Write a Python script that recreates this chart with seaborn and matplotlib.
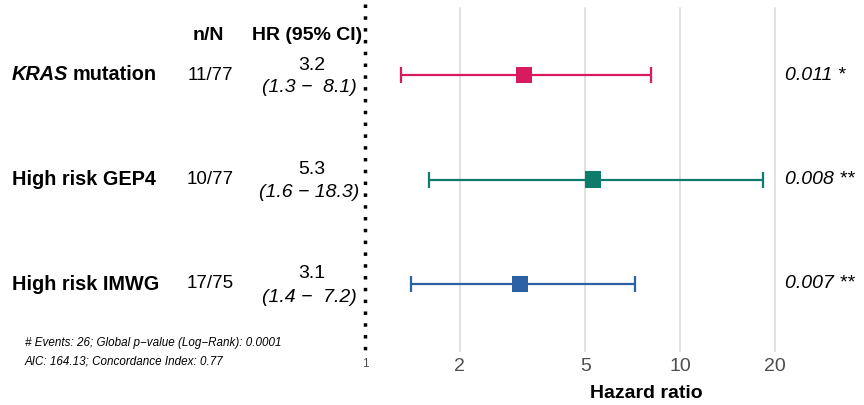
import numpy as np
import pandas as pd
import seaborn as sns
import matplotlib.pyplot as plt
from matplotlib import transforms

# data
variables = ["KRAS mutation", "High risk GEP4", "High risk IMWG"]
n_over_N = ["11/77", "10/77", "17/75"]
hr = [3.2, 5.3, 3.1]
ci_low = [1.3, 1.6, 1.4]
ci_high = [8.1, 18.3, 7.2]
p_text = ["0.011 *", "0.008 **", "0.007 **"]
colors = ["#D81B60", "#0E7C6B", "#2C62A3"]
xticks = [1, 2, 5, 10, 20]
footnote = ["# Events: 26; Global p\u2212value (Log\u2212Rank): 0.0001",
            "AIC: 164.13; Concordance Index: 0.77"]

df = pd.DataFrame({"var": variables, "hr": hr, "lo": ci_low, "hi": ci_high,
                   "row": np.arange(len(variables))})

sns.set_theme(style="white")
plt.rcParams['font.family'] = ['Liberation Sans', 'DejaVu Sans']
plt.rcParams['text.color'] = 'black'

W, H = 864, 405
fig = plt.figure(figsize=(W / 100, H / 100), dpi=100)
bottom_px = 352
ax = fig.add_axes([0, (H - bottom_px) / H, 1, bottom_px / H])

# x: log scale, 1 at pixel 365, ~315 px per decade
x0, dec = 365, 315
ax.set_xscale("log")
ax.set_xlim(10 ** (-x0 / dec), 10 ** ((W - x0) / dec))
# y: rows at pixels 75, 180, 284
y0, step = 75, 104.5
ax.set_ylim((bottom_px - y0) / step, -y0 / step)

# grid lines + dotted reference line at HR = 1
for t in xticks[1:]:
    ax.plot([t, t], [(8 - y0) / step, (bottom_px - y0) / step], color="#dedede", lw=1.3, zorder=0)
ax.plot([1, 1], [(4 - y0) / step, (bottom_px - y0) / step], color="black", lw=2.5,
        linestyle=(0, (1, 2.4)), dash_capstyle="butt", zorder=1)

for i, r in df.iterrows():
    ax.errorbar(r["hr"], r["row"], xerr=[[r["hr"] - r["lo"]], [r["hi"] - r["hr"]]],
                fmt="none", ecolor=colors[i], elinewidth=1.6, capsize=5.7, capthick=1.6, zorder=2)
sns.scatterplot(data=df, x="hr", y="row", hue="var", palette=colors, marker="s",
                s=140, linewidth=0, legend=False, ax=ax, zorder=3)

# axis styling
ax.set_xticks(xticks)
ax.set_xticklabels([str(t) for t in xticks])
ax.minorticks_off()
ax.set_yticks([])
ax.tick_params(axis="x", length=0, pad=4, labelsize=14, labelcolor="#4d4d4d")
ax.get_xticklabels()[0].set_fontsize(8.5)
for s in ax.spines.values():
    s.set_visible(False)
ax.set_xlabel("Hazard ratio", fontsize=14, fontweight="bold", color="black")
ax.xaxis.set_label_coords(646 / W, -(393 - bottom_px) / bottom_px, transform=ax.transAxes)
ax.xaxis.label.set_verticalalignment("center")
ax.set_ylabel("")

# table text on the left (x in pixels, y in row units)
tr = transforms.blended_transform_factory(fig.transFigure, ax.transData)
hy = (35 - y0) / step
ax.text(208 / W, hy, "n/N", transform=tr, ha="center", va="center", fontsize=14, fontweight="bold")
ax.text(307 / W, hy, "HR (95% CI)", transform=tr, ha="center", va="center", fontsize=14, fontweight="bold")
for i in range(len(variables)):
    if i == 0:
        ax.text(12 / W, i, "KRAS", transform=tr, ha="left", va="center", fontsize=14.3,
                fontweight="bold", style="italic")
        ax.text(73 / W, i, "mutation", transform=tr, ha="left", va="center", fontsize=14.3,
                fontweight="bold")
    else:
        ax.text(12 / W, i, variables[i], transform=tr, ha="left", va="center", fontsize=14.3,
                fontweight="bold")
    ax.text(210 / W, i, n_over_N[i], transform=tr, ha="center", va="center", fontsize=13.5)
    ax.text(312 / W, i - 10 / step, f"{hr[i]:.1f}", transform=tr, ha="center", va="center", fontsize=14)
    if ci_high[i] < 10:
        ci = f"({ci_low[i]:.1f} \u2212  {ci_high[i]:.1f})"
    else:
        ci = f"({ci_low[i]:.1f} \u2212 {ci_high[i]:.1f})"
    ax.text(309 / W, i + 13 / step, ci, transform=tr, ha="center", va="center", fontsize=14,
            style="italic")
    ax.text(785 / W, i, p_text[i], transform=tr, ha="left", va="center", fontsize=14, style="italic")

ax.text(25 / W, (343 - y0) / step, footnote[0], transform=tr, ha="left", va="center",
        fontsize=8.4, style="italic")
ax.text(25 / W, (361 - y0) / step, footnote[1], transform=tr, ha="left", va="center",
        fontsize=8.4, style="italic", clip_on=False)

fig.savefig("out.png", dpi=100)
